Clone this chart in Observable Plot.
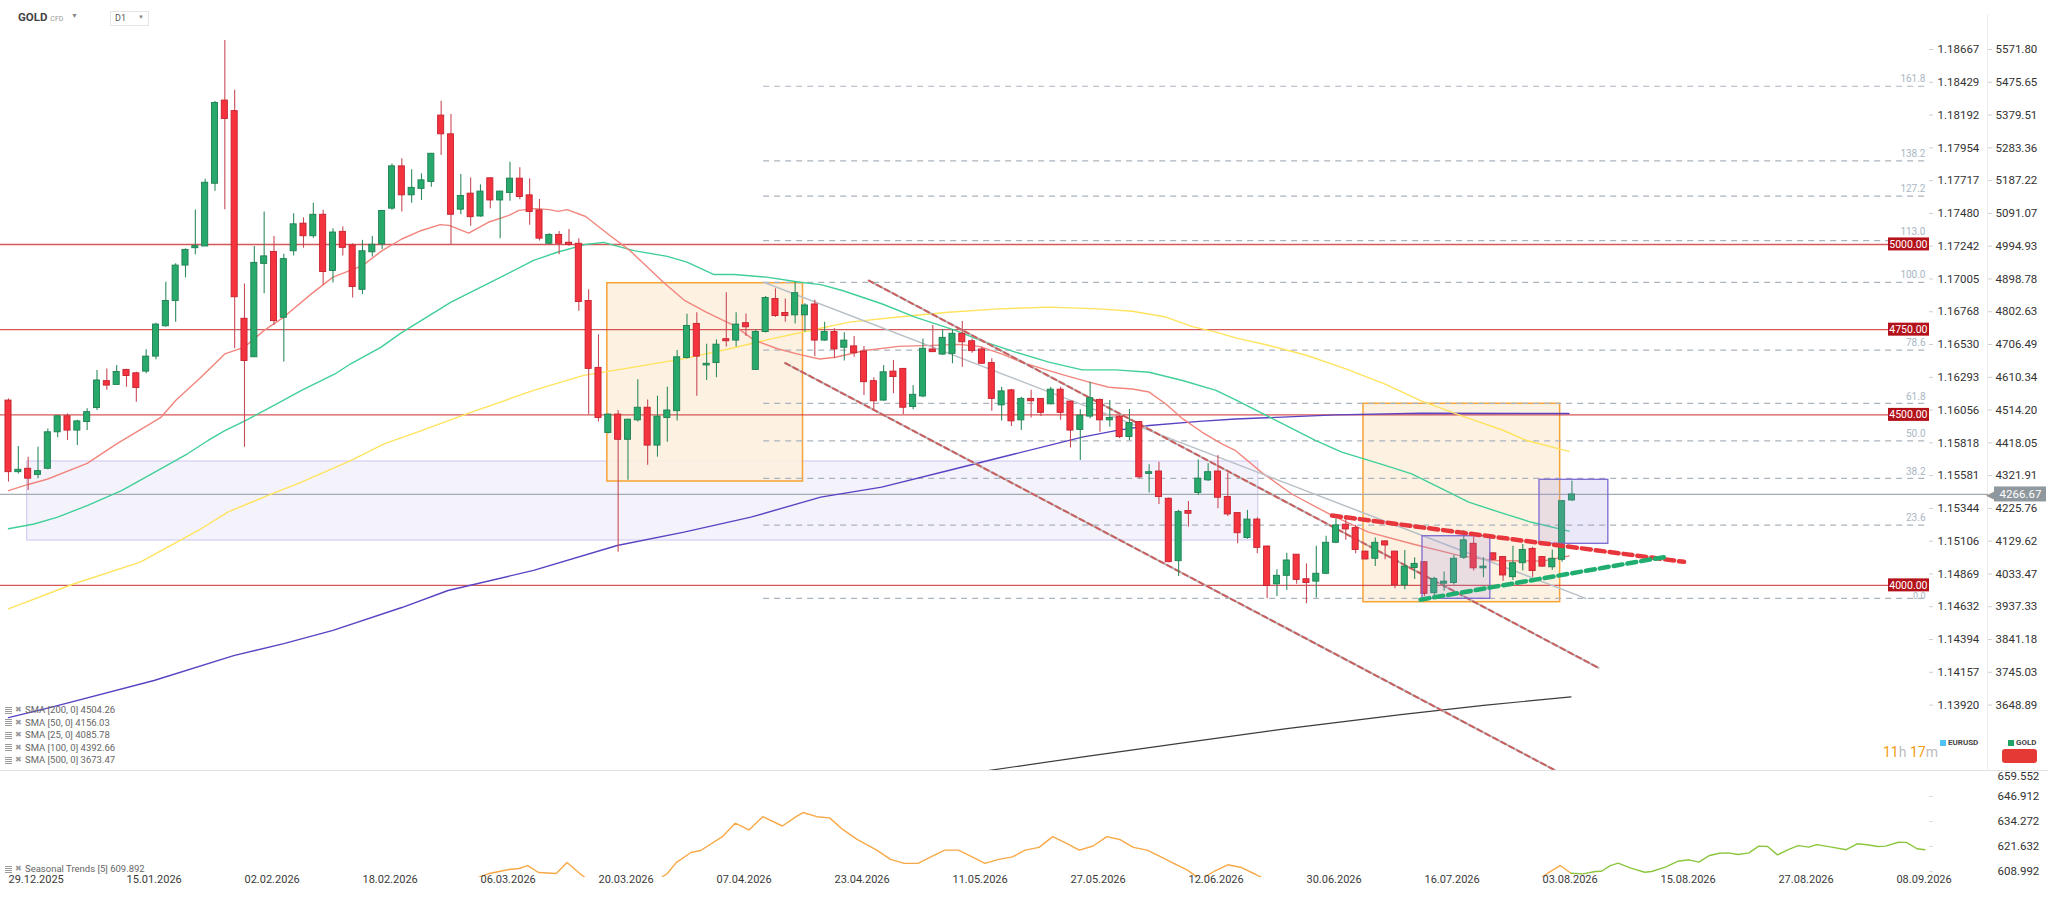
<!DOCTYPE html>
<html><head><meta charset="utf-8">
<script src="https://cdn.jsdelivr.net/npm/d3@7"></script>
<script src="https://cdn.jsdelivr.net/npm/@observablehq/plot@0.6"></script>
<style>
body{margin:0;background:#fff;font-family:Roboto,"Open Sans",sans-serif;}
#wrap{position:relative;width:2048px;height:897px;overflow:hidden;background:#fff;}
#price{position:absolute;left:0;top:0;}
#sub{position:absolute;left:0;top:771px;}
#sep{position:absolute;left:0;top:770px;width:2048px;height:1px;background:#e2e2e2;}
.ov{position:absolute;white-space:nowrap;line-height:1;}
.ic{display:inline-block;width:7px;height:7px;background:repeating-linear-gradient(#9a9a9a 0 1px,transparent 1px 2px);vertical-align:middle;margin-right:3px;}
.x{color:#9a9a9a;font-size:8px;margin-right:3px;vertical-align:middle;}
.lg{font-size:9.5px;color:#666;}
</style></head><body>
<div id="wrap">
  <div id="price"></div>
  <div id="sep"></div>
  <div id="sub"></div>
  <div class="ov" style="left:18px;top:12px;font-size:11.5px;font-weight:700;color:#444;">GOLD <span style="font-size:7px;font-weight:400;color:#999;">CFD</span></div>
  <div class="ov" style="left:71px;top:13px;font-size:7px;color:#888;">▼</div>
  <div class="ov" style="left:110px;top:11px;width:37px;height:13px;border:1px solid #e6e6e6;"></div>
  <div class="ov" style="left:115px;top:14px;font-size:9px;color:#555;">D1</div>
  <div class="ov" style="left:138px;top:14px;font-size:6px;color:#888;">▼</div>
  <div id="legend"></div>
  <div class="ov" style="left:1883px;top:745px;font-size:14px;color:#f39c12;">11<span style="color:#bdbdbd">h</span> 17<span style="color:#bdbdbd">m</span></div>
  <div class="ov" style="left:1940px;top:740px;width:6px;height:6px;background:#4fc3f7;"></div>
  <div class="ov" style="left:1948px;top:739px;font-size:8px;font-weight:700;color:#444;">EURUSD</div>
  <div class="ov" style="left:2008px;top:740px;width:6px;height:6px;background:#21a366;"></div>
  <div class="ov" style="left:2016px;top:739px;font-size:8px;font-weight:700;color:#444;">GOLD</div>
  <div class="ov" style="left:2002px;top:749px;width:35px;height:14px;background:#e53935;border-radius:3px;"></div>
</div>
<script>
// ---------- DATA ----------
const opens  = [4542,4332,4342,4324,4342,4449,4496,4454,4479,4520,4599,4588,4632,4622,4627,4671,4760,4834,4938,4989,4994,5178,5422,5391,4782,4669,4943,4978,4785,4980,5061,5024,5087,4922,5037,4997,4867,4977,5000,5105,5229,5144,5163,5183,5378,5323,5102,5149,5082,5194,5129,5151,5193,5144,5100,5002,5028,5005,5002,4834,4638,4447,4501,4427,4484,4521,4410,4491,4511,4667,4767,4645,4652,4722,4718,4769,4632,4743,4840,4799,4792,4792,4824,4718,4743,4697,4701,4686,4599,4542,4627,4635,4523,4554,4692,4677,4679,4738,4716,4692,4652,4528,4572,4484,4547,4547,4531,4574,4539,4456,4495,4544,4484,4495,4435,4479,4327,4334,4254,4071,4218,4271,4308,4334,4259,4212,4139,4193,4114,4003,4028,4090,4018,4011,4034,4125,4178,4168,4099,4078,4129,4099,4000,4051,4068,3977,4005,4007,4081,4122,4050,4094,4083,4024,4065,4107,4083,4053,4075,4249];
const highs  = [4547,4407,4376,4405,4459,4498,4503,4484,4518,4630,4635,4645,4634,4625,4691,4769,4889,4943,4987,5101,5191,5419,5598,5452,4884,4994,5095,5023,4971,5090,5078,5121,5100,5046,5051,5002,5012,5023,5100,5236,5251,5219,5207,5266,5420,5381,5205,5195,5175,5195,5156,5241,5225,5193,5132,5031,5038,5044,5017,4867,4735,4503,4513,4487,4603,4544,4555,4581,4689,4795,4800,4707,4720,4858,4800,4796,4750,4847,4870,4840,4889,4826,4836,4772,4753,4741,4730,4701,4609,4645,4660,4636,4586,4723,4762,4750,4750,4774,4723,4699,4665,4581,4575,4552,4572,4548,4581,4581,4540,4515,4596,4547,4542,4498,4516,4481,4354,4361,4256,4220,4246,4368,4357,4381,4329,4212,4220,4198,4115,4046,4094,4090,4063,4115,4144,4195,4202,4176,4100,4139,4130,4100,4102,4081,4069,4024,4039,4088,4161,4141,4081,4095,4084,4115,4120,4112,4085,4104,4249,4306];
const lows   = [4303,4327,4278,4313,4339,4433,4425,4410,4454,4513,4572,4586,4581,4537,4621,4662,4757,4772,4902,4970,4994,5156,5102,4694,4405,4669,4855,4762,4655,4966,4989,5018,4880,4887,4966,4843,4853,4963,4985,5100,5095,5121,5129,5168,5261,5000,5087,5053,5080,5105,5017,5127,5131,5056,5010,4999,4970,4995,4804,4501,4479,4445,4097,4308,4479,4352,4376,4420,4482,4664,4555,4601,4609,4699,4699,4730,4632,4740,4786,4772,4767,4743,4671,4716,4665,4658,4669,4557,4515,4540,4562,4501,4515,4550,4683,4674,4650,4640,4681,4648,4511,4482,4466,4454,4491,4495,4530,4484,4403,4366,4489,4449,4464,4430,4425,4313,4271,4237,4066,4026,4171,4264,4305,4225,4202,4122,4135,4093,3961,3967,3985,4003,3946,3963,4031,4122,4132,4093,4075,4055,4075,3990,3987,4017,3967,3965,3983,4000,4076,4042,4022,4073,4012,4014,4042,4024,4053,4044,4068,4247];
const closes = [4332,4339,4313,4335,4449,4496,4454,4481,4508,4601,4586,4626,4614,4579,4671,4765,4834,4938,4984,4995,5181,5415,5368,4845,4658,4946,4965,4775,4957,5059,5024,5087,4919,5035,4990,4875,4980,4999,5098,5229,5144,5166,5188,5266,5323,5087,5142,5080,5155,5129,5155,5193,5139,5095,5017,5028,5002,4999,4831,4635,4491,4501,4427,4486,4521,4410,4495,4513,4669,4761,4671,4650,4706,4716,4765,4757,4743,4843,4790,4790,4857,4821,4718,4743,4692,4718,4681,4596,4540,4625,4611,4521,4559,4694,4684,4726,4738,4713,4687,4650,4547,4569,4481,4547,4540,4506,4574,4506,4454,4498,4549,4484,4491,4435,4476,4317,4332,4259,4068,4215,4210,4313,4332,4257,4208,4153,4193,4110,3998,4028,4073,4016,4007,4034,4125,4176,4164,4104,4076,4125,4117,4000,4055,4063,3975,4019,4011,4078,4132,4050,4055,4075,4029,4065,4104,4042,4055,4078,4247,4266.67];

// moving averages: [bar, value]
const sma25 = [[0,4278],[2,4296],[4,4312],[8,4358],[11,4415],[15.5,4493],[17,4542],[19.6,4611],[22,4679],[24,4699],[26,4748],[28,4787],[30.8,4855],[33,4904],[36,4938],[38,4982],[40,5016],[42,5041],[43.9,5058],[44.8,5056],[46.8,5033],[48.8,5065],[50.9,5085],[51.9,5100],[53.6,5105],[55,5102],[55.9,5097],[56.8,5102],[58.7,5082],[61,5030],[63.2,4982],[66.6,4889],[68.7,4837],[71,4801],[73.8,4762],[75.8,4720],[78.2,4694],[80.5,4677],[82.5,4664],[84.1,4669],[87.1,4689],[90.5,4701],[93.9,4704],[96.6,4707],[98.7,4701],[101,4679],[103,4655],[105.8,4630],[107.8,4613],[109.9,4596],[111.9,4581],[114.3,4576],[116,4567],[117.7,4532],[119.4,4489],[121.4,4449],[123.4,4415],[124.8,4395],[127.5,4330],[130.5,4268],[134.6,4205],[138.3,4156],[142.7,4122],[147.5,4088],[150.9,4073],[156,4071],[158.7,4086]];
const sma50 = [[0,4166],[2.6,4180],[5,4200],[8,4234],[11.5,4278],[15.2,4337],[18.2,4386],[20.3,4425],[22,4454],[24,4482],[27,4528],[29.8,4572],[33.2,4620],[34.8,4650],[37.9,4699],[39.9,4740],[42,4777],[45,4831],[48.7,4884],[53.4,4953],[55.8,4977],[58.7,5000],[60.5,5006],[63.6,4982],[67,4965],[69,4948],[71.7,4912],[73.8,4912],[77.1,4904],[80.5,4889],[82.6,4882],[84.8,4865],[88.8,4826],[92.2,4787],[96.3,4748],[98.9,4718],[102.4,4684],[105.8,4655],[109.2,4632],[112.6,4632],[116,4625],[119.4,4601],[122.8,4572],[124.8,4544],[128.5,4490],[132.9,4425],[135.6,4391],[140,4352],[142.7,4327],[145.8,4283],[148.5,4244],[151.6,4215],[154.9,4185],[158.7,4159]];
const sma100 = [[0,3931],[6.6,4004],[13.4,4068],[19.3,4161],[22.3,4215],[26.4,4264],[29.8,4303],[34.8,4366],[38.2,4415],[42,4454],[46.6,4503],[53.4,4572],[58.5,4616],[63.6,4640],[68.7,4665],[73.8,4697],[77.1,4720],[82.6,4754],[85.5,4772],[90.5,4787],[95.6,4801],[100.7,4811],[105.8,4816],[110.9,4811],[114.3,4804],[117.7,4787],[120.4,4759],[122.8,4743],[124.8,4726],[128,4705],[132,4675],[136,4635],[140,4590],[143.6,4542],[148,4495],[152,4455],[154.4,4425],[158.7,4393]];
const sma200 = [[0,3612],[4.3,3642],[14.8,3721],[22.9,3794],[28,3829],[33,3868],[40,3935],[44.7,3985],[53.4,4044],[61.9,4117],[68.7,4156],[75.5,4200],[82.6,4259],[88.8,4288],[95.6,4337],[102.4,4386],[109.2,4435],[112.6,4454],[116,4469],[121.1,4481],[124.8,4488],[135,4500],[143.6,4505],[158.7,4504]];
const sma500 = [[98,3450],[110,3500],[120,3540],[130,3580],[141.6,3621],[150,3648],[158.9,3673]];

// horizontal levels, fibonacci
const levels = [5000, 4750, 4500, 4000];
const fibLabels = ["161.8","138.2","127.2","113.0","100.0","78.6","61.8","50.0","38.2","23.6","0.0"];
const fibPrices = [5464, 5245, 5142, 5011, 4889, 4690, 4534, 4424, 4314, 4177, 3962];
const fibStartBar = 76.8;
const lastPrice = 4266.67;

// drawings
const trendLine = [[76.8,4889],[160.4,3962]];
const channelUpper = [[87.5,4894],[161.7,3758]];
const channelLower = [[79,4652],[158.5,3439]];
const triRed = [[134.6,4205],[170.4,4069]];
const triGreen = [[143.6,3958],[168.8,4085]];
const rangeBox = [{x1:1.9,x2:127.1,y1:4131.6,y2:4363.3}];
const orangeBoxes = [{x1:60.9,x2:80.8,y1:4304.7,y2:4886.3},{x1:137.8,x2:157.8,y1:3950.6,y2:4532.6}];
const purpleBoxes = [{x1:143.8,x2:150.7,y1:3960.6,y2:4144.2},{x1:155.7,x2:162.7,y1:4121.9,y2:4309.7}];

// axes
const goldTicks = [5571.80,5475.65,5379.51,5283.36,5187.22,5091.07,4994.93,4898.78,4802.63,4706.49,4610.34,4514.20,4418.05,4321.91,4225.76,4129.62,4033.47,3937.33,3841.18,3745.03,3648.89];
const eurLabels = ["1.18667","1.18429","1.18192","1.17954","1.17717","1.17480","1.17242","1.17005","1.16768","1.16530","1.16293","1.16056","1.15818","1.15581","1.15344","1.15106","1.14869","1.14632","1.14394","1.14157","1.13920"];
const dateLabels = ["29.12.2025","15.01.2026","02.02.2026","18.02.2026","06.03.2026","20.03.2026","07.04.2026","23.04.2026","11.05.2026","27.05.2026","12.06.2026","30.06.2026","16.07.2026","03.08.2026","15.08.2026","27.08.2026","08.09.2026"];
const barsPerDateLabel = 12;
const subTicks = [659.552,646.912,634.272,621.632,608.992];

// seasonal trend
const seasHist = [[47,604.5],[48.9,608.0],[50.9,610.0],[51.9,610.5],[52.8,612.0],[53.9,608.5],[55.7,608.0],[56.8,613.5],[58.1,608.0],[59,604.5],[66,604.5],[67.0,608.0],[67.9,613.5],[69.4,618.6],[70.4,619.6],[72.6,626.6],[73.9,633.4],[75.3,630.0],[76.7,636.7],[78.7,632.0],[80.1,636.7],[80.8,638.8],[82.2,636.7],[83.5,636.1],[84.9,630.0],[86.3,625.2],[88.3,619.8],[89.7,615.1],[91.1,613.1],[92.5,613.1],[93.8,616.4],[95.2,619.8],[96.6,619.8],[98.0,616.4],[99.3,613.1],[100.7,615.1],[102.1,616.4],[103.4,619.8],[104.8,621.2],[106.2,626.6],[107.6,623.2],[108.9,619.8],[110.3,621.9],[111.7,626.6],[113.0,625.2],[114.4,621.2],[115.8,619.8],[117.2,616.4],[118.5,613.1],[119.9,609.7],[121.2,605.0],[122.6,609.0],[124.0,612.4],[125.4,611.0],[126.8,607.6],[128,604.5],[155.5,604.5],[156.5,608.0],[157.8,612.0],[158.9,608.1]];
const seasFcst = [[158.9,608.1],[160.1,607.8],[161.4,609.0],[162.0,609.1],[162.9,612.0],[163.7,613.2],[165.0,610.7],[166.4,608.6],[167.1,609.0],[168.5,611.2],[169.8,614.2],[170.9,614.9],[171.9,613.7],[173.0,617.1],[174.0,618.2],[174.9,618.4],[175.9,617.6],[177.0,618.4],[178.0,621.8],[178.9,621.6],[179.9,617.4],[181.0,620.1],[182.0,622.1],[183.1,621.3],[183.9,622.6],[185.4,621.3],[186.9,620.0],[188.0,623.0],[189.0,622.5],[190.1,621.6],[190.9,621.8],[192.2,623.8],[193.0,623.7],[194.1,620.5],[194.9,620.0]];

const legendItems = [["SMA [200, 0]","4504.26"],["SMA [50, 0]","4156.03"],["SMA [25, 0]","4085.78"],["SMA [100, 0]","4392.66"],["SMA [500, 0]","3673.47"]];
const seasonalLegend = ["Seasonal Trends [5]","609.892"];

// ---------- LAYOUT ----------
const W = 2048, PRICE_H = 770, FRAME_W = 1929, BAR_PX = 9.833, FIRST_X = 8;
const xDomain = [-FIRST_X / BAR_PX, (FRAME_W - FIRST_X) / BAR_PX];
const yDomain = [3457.0, 5715.5];
const X = d3.scaleLinear(xDomain, [0, FRAME_W]);
const Y = d3.scaleLinear(yDomain, [PRICE_H, 0]);
const pxPrice = (yDomain[1] - yDomain[0]) / PRICE_H;
const HALF = 0.31;

const candles = opens.map((o, i) => ({i, open: o, high: highs[i], low: lows[i], close: closes[i]}));
const up = candles.filter(d => d.close >= d.open);
const down = candles.filter(d => d.close < d.open);
const fibs = fibPrices.map((p, k) => ({price: p, label: fibLabels[k]}));
const px = d => d[0], py = d => d[1];
const boxHalf = 6.5 * pxPrice;
const lvlX1 = X.invert(1888);
const tickA1 = X.invert(1929), tickA2 = X.invert(1933);
const tickB1 = X.invert(1988), tickB2 = X.invert(1992);
const gold = goldTicks.map((v, k) => ({v, eur: eurLabels[k]}));
const font = "Roboto, 'Open Sans', sans-serif";
const fibMid = fibs.filter(d => d.label !== "0.0" && d.label !== "113.0");
const fibLow = fibs.filter(d => d.label === "0.0");
const fibTop = fibs.filter(d => d.label === "113.0");

const price = Plot.plot({
  width: W, height: PRICE_H,
  marginLeft: 0, marginRight: W - FRAME_W, marginTop: 0, marginBottom: 0,
  x: {domain: xDomain, axis: null},
  y: {domain: yDomain, axis: null},
  style: {fontFamily: font, background: "transparent", overflow: "visible"},
  marks: [
    Plot.ruleX([X.invert(1987)], {y1: Y.invert(14), y2: yDomain[0], stroke: "#ececec"}),
    Plot.rect(rangeBox, {x1: "x1", x2: "x2", y1: "y1", y2: "y2", fill: "#f4f3fc", stroke: "#d3cef2", strokeWidth: 1.2}),
    Plot.rect(orangeBoxes, {x1: "x1", x2: "x2", y1: "y1", y2: "y2", fill: "#fdeedd", fillOpacity: 0.85, stroke: "#f7a335", strokeWidth: 1.5}),
    Plot.ruleY(levels, {x1: xDomain[0], x2: xDomain[1], stroke: "#cf3a3a", strokeWidth: 1.4, strokeOpacity: 0.85}),
    Plot.ruleY(fibs, {y: "price", x1: fibStartBar, x2: xDomain[1], stroke: "#aab4be", strokeWidth: 1.2, strokeDasharray: "6,5"}),
    Plot.ruleY([lastPrice], {x1: xDomain[0], x2: X.invert(1988), stroke: "#a3abb1", strokeWidth: 1.3}),
    Plot.line(sma500, {x: px, y: py, stroke: "#3c3c3c", strokeWidth: 1.2, clip: true}),
    Plot.line(sma200, {x: px, y: py, stroke: "#5b42c2", strokeWidth: 1.4, clip: true}),
    Plot.line(sma100, {x: px, y: py, stroke: "#ffe35e", strokeWidth: 1.4, clip: true}),
    Plot.line(sma50, {x: px, y: py, stroke: "#40cf98", strokeWidth: 1.4, clip: true}),
    Plot.line(sma25, {x: px, y: py, stroke: "#f2857d", strokeWidth: 1.4, clip: true}),
    Plot.line(trendLine, {x: px, y: py, stroke: "#b9c1c8", strokeWidth: 1.5}),
    Plot.line(channelUpper, {x: px, y: py, stroke: "#b8b8b8", strokeWidth: 2, clip: true}),
    Plot.line(channelUpper, {x: px, y: py, stroke: "#c95f5f", strokeWidth: 2, strokeDasharray: "5,4", clip: true}),
    Plot.line(channelLower, {x: px, y: py, stroke: "#b8b8b8", strokeWidth: 2, clip: true}),
    Plot.line(channelLower, {x: px, y: py, stroke: "#c95f5f", strokeWidth: 2, strokeDasharray: "5,4", clip: true}),
    Plot.ruleX(up, {x: "i", y1: "low", y2: "high", stroke: "#2f8c5f", strokeWidth: 1.1}),
    Plot.ruleX(down, {x: "i", y1: "low", y2: "high", stroke: "#c94b58", strokeWidth: 1.1}),
    Plot.rect(up, {x1: d => d.i - HALF, x2: d => d.i + HALF, y1: "open", y2: "close", fill: "#27a96c", stroke: "#1d7f51", strokeWidth: 0.9}),
    Plot.rect(down, {x1: d => d.i - HALF, x2: d => d.i + HALF, y1: "open", y2: "close", fill: "#f5333f", stroke: "#c4212e", strokeWidth: 0.9}),
    Plot.rect(purpleBoxes, {x1: "x1", x2: "x2", y1: "y1", y2: "y2", fill: "#9d8fe3", fillOpacity: 0.2, stroke: "#7c69d2", strokeWidth: 1.3}),
    Plot.line(triRed, {x: px, y: py, stroke: "#e8373c", strokeWidth: 4.5, strokeDasharray: "9,5"}),
    Plot.line(triGreen, {x: px, y: py, stroke: "#1fae6f", strokeWidth: 4.5, strokeDasharray: "9,5"}),
    Plot.text(fibMid, {y: "price", text: "label", frameAnchor: "right", textAnchor: "end", dx: -4, dy: -7, fill: "#a9b6c4", fontSize: 10}),
    Plot.text(fibTop, {y: "price", text: "label", frameAnchor: "right", textAnchor: "end", dx: -4, dy: -9, fill: "#a9b6c4", fontSize: 10}),
    Plot.text(fibLow, {y: "price", text: "label", frameAnchor: "right", textAnchor: "end", dx: -4, dy: -2, fill: "#a9b6c4", fontSize: 9}),
    Plot.rect(levels, {x1: lvlX1, x2: xDomain[1], y1: d => d - boxHalf, y2: d => d + boxHalf, fill: "#b3121b"}),
    Plot.text(levels, {y: d => d, text: d => d.toFixed(2), frameAnchor: "right", textAnchor: "end", dx: -2, fill: "white", fontSize: 10.5}),
    Plot.ruleY(gold, {y: "v", x1: tickA1, x2: tickA2, stroke: "#cfcfcf"}),
    Plot.text(gold, {y: "v", text: "eur", frameAnchor: "right", textAnchor: "start", dx: 8, fill: "#333", fontSize: 11.5}),
    Plot.ruleY(gold, {y: "v", x1: tickB1, x2: tickB2, stroke: "#cfcfcf"}),
    Plot.text(gold, {y: "v", text: d => d.v.toFixed(2), frameAnchor: "right", textAnchor: "start", dx: 66, fill: "#333", fontSize: 11.5}),
    Plot.rect([lastPrice], {x1: X.invert(1994), x2: X.invert(2046), y1: d => d - 7.5 * pxPrice, y2: d => d + 7.5 * pxPrice, fill: "#8f989e"}),
    Plot.text([lastPrice], {x: X.invert(1990), y: d => d, text: () => "◀", fill: "#8f989e", fontSize: 13}),
    Plot.text([lastPrice], {x: X.invert(2020), y: d => d, text: d => d.toFixed(2), fill: "white", fontSize: 11.5})
  ]
});
document.getElementById("price").appendChild(price);

const dates = dateLabels.map((label, k) => ({i: k * barsPerDateLabel, label}));
const subs = subTicks.map((v, k) => ({v, top: k === 0}));
const sub = Plot.plot({
  width: W, height: 126,
  marginLeft: 0, marginRight: W - FRAME_W, marginTop: 0, marginBottom: 20,
  x: {domain: xDomain, axis: null},
  y: {domain: [605.958, 659.552], axis: null},
  style: {fontFamily: font, background: "transparent", overflow: "visible"},
  marks: [
    Plot.line(seasHist, {x: px, y: py, stroke: "#f7a947", strokeWidth: 1.4, clip: true}),
    Plot.line(seasFcst, {x: px, y: py, stroke: "#8cc63f", strokeWidth: 1.4, clip: true}),
    Plot.ruleY(subs.filter(d => !d.top), {y: "v", x1: tickA1, x2: tickA2, stroke: "#dcdcdc"}),
    Plot.text(subs.filter(d => !d.top), {y: "v", text: d => d.v.toFixed(3), frameAnchor: "right", textAnchor: "start", dx: 68, fill: "#333", fontSize: 11.5}),
    Plot.text(subs.filter(d => d.top), {y: "v", text: d => d.v.toFixed(3), frameAnchor: "right", textAnchor: "start", dx: 68, dy: 5, fill: "#333", fontSize: 11.5}),
    Plot.text(dates, {x: "i", text: "label", frameAnchor: "bottom", dy: 5, textAnchor: "start", fill: "#3a3a3a", fontSize: 11})
  ]
});
document.getElementById("sub").appendChild(sub);

// legends
const lg = document.getElementById("legend");
legendItems.forEach(([n, v], k) => {
  const d = document.createElement("div");
  d.className = "ov lg";
  d.style.left = "5px"; d.style.top = (705 + k * 12.5) + "px";
  d.innerHTML = `<span class="ic"></span><span class="x">✖</span>${n} ${v}`;
  lg.appendChild(d);
});
const s = document.createElement("div");
s.className = "ov lg"; s.style.left = "5px"; s.style.top = "864px";
s.innerHTML = `<span class="ic"></span><span class="x">✖</span>${seasonalLegend[0]} ${seasonalLegend[1]}`;
lg.appendChild(s);
</script>
</body></html>
